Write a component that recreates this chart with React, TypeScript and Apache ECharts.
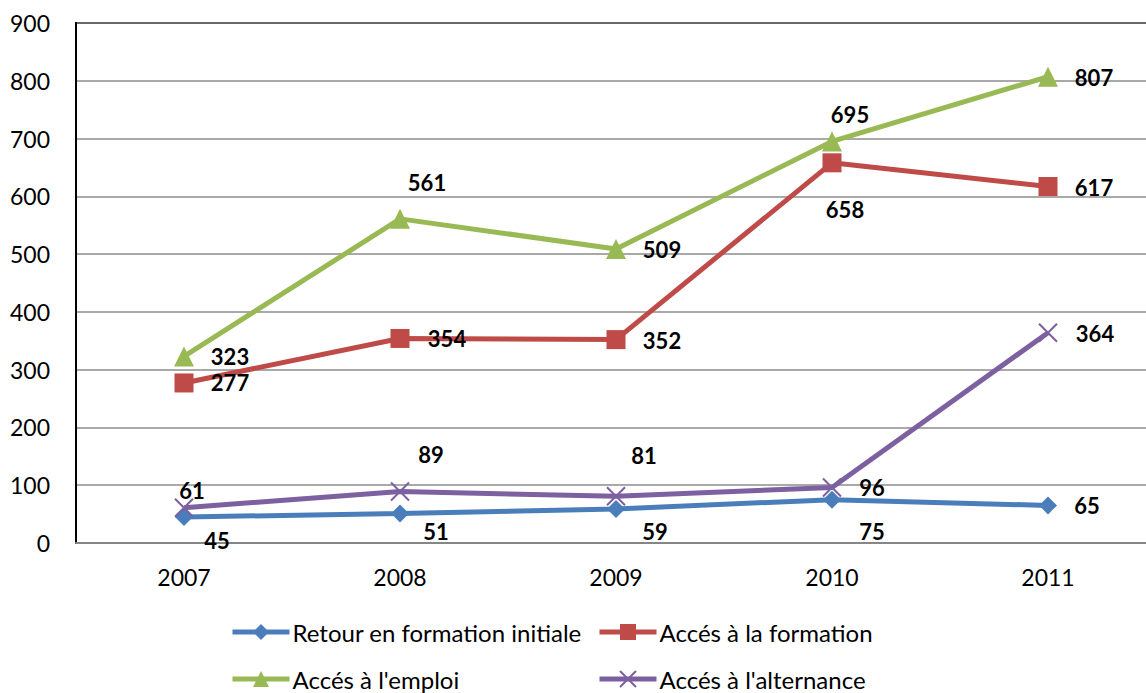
import React, { useEffect, useRef } from "react";
import * as echarts from "echarts";

const years = ["2007", "2008", "2009", "2010", "2011"];
const retour = [45, 51, 59, 75, 65];
const formation = [277, 354, 352, 658, 617];
const emploi = [323, 561, 509, 695, 807];
const alternance = [61, 89, 81, 96, 364];

const retourOffsets = [[33, 23], [36, 18], [39, 23], [40, 32], [39, 0]];
const formationOffsets = [[46, 0], [47, 0], [46, 1], [13, 47], [46, 1]];
const emploiOffsets = [[46, 0], [27, -36], [46, 1], [18, -27], [46, 1]];
const alternanceOffsets = [[8, -17], [31, -37], [28, -41], [40, 0], [47, 1]];

const names = [
  "Retour en formation initiale",
  "Accés à la formation",
  "Accés à l'emploi",
  "Accés à l'alternance",
];
const colors = ["#4A7EBB", "#BE4B48", "#98B954", "#7D60A0"];

const FONT = "Lato";

function withOffsets(vals: number[], offs: number[][]) {
  return vals.map((v, i) => ({ value: v, label: { offset: offs[i] } }));
}

export default function App() {
  const ref = useRef<HTMLDivElement>(null);
  useEffect(() => {
    if (!ref.current) return;
    const chart = echarts.init(ref.current, undefined, { renderer: "svg" });
    const labelStyle = {
      show: true,
      position: "inside",
      fontFamily: FONT,
      fontWeight: "bold",
      fontSize: 22,
      color: "#000",
    };
    const mk = (i: number, data: any[], symbol: string, size: number, extra: any = {}) => ({
      name: names[i],
      type: "line",
      data,
      symbol,
      symbolSize: size,
      lineStyle: { color: colors[i], width: 5 },
      itemStyle: { color: colors[i], ...extra },
      label: labelStyle,
      z: 2 + i,
    });
    const legendPos = [
      [230, 632],
      [597, 632],
      [230, 679],
      [597, 679],
    ];
    const itemH = 20;
    chart.setOption({
      animation: false,
      grid: {
        left: 76,
        top: 23,
        width: 1080,
        height: 520,
        show: true,
        borderColor: "#000",
        borderWidth: 2,
        outerBoundsMode: "none",
        containLabel: false,
      },
      legend: names.map((n, i) => ({
        data: [n],
        left: legendPos[i][0],
        top: legendPos[i][1] - 12,
        padding: 0,
        itemWidth: 57,
        itemHeight: itemH,
        itemGap: 0,
        selectedMode: false,
        lineStyle: { width: 5 },
        textStyle: { fontFamily: FONT, fontSize: 24, color: "#000", lineHeight: 24, padding: [0, 0, 0, -2] },
      })),
      xAxis: {
        type: "category",
        data: years,
        boundaryGap: true,
        axisLine: { lineStyle: { color: "#868686", width: 2 } },
        axisTick: { show: false },
        axisLabel: { fontFamily: FONT, fontSize: 23, color: "#000", margin: 22 },
      },
      yAxis: {
        type: "value",
        min: 0,
        max: 900,
        interval: 100,
        axisLine: { show: true, lineStyle: { color: "#000", width: 2 } },
        axisTick: { show: false },
        splitLine: { lineStyle: { color: "#8C8C8C", width: 1.5 } },
        axisLabel: { fontFamily: FONT, fontSize: 23, color: "#000", margin: 26 },
      },
      series: [
        mk(0, withOffsets(retour, retourOffsets), "diamond", 18),
        mk(1, withOffsets(formation, formationOffsets), "rect", 19),
        mk(2, withOffsets(emploi, emploiOffsets), "triangle", 20),
        mk(3, withOffsets(alternance, alternanceOffsets), "path://M0,0L10,10M10,0L0,10", 18, {
          borderColor: colors[3],
          borderWidth: 2,
        }),
      ],
    });
    return () => chart.dispose();
  }, []);
  return (
    <div
      ref={ref}
      style={{ position: "absolute", left: 0, top: 0, width: 1146, height: 693, background: "#fff" }}
    />
  );
}
